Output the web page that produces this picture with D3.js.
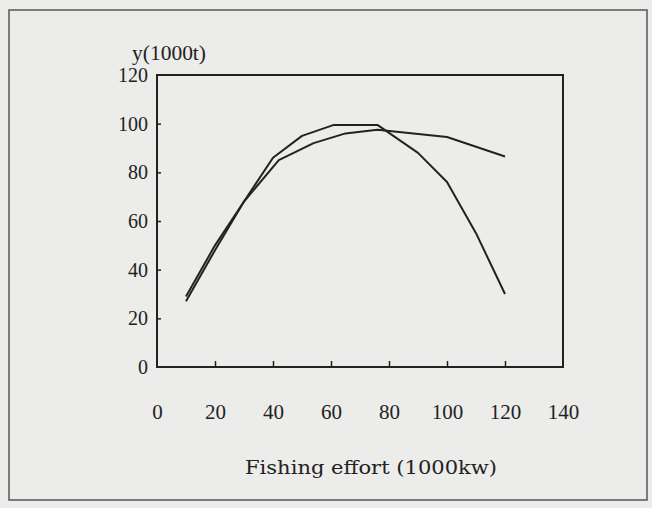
<!DOCTYPE html>
<html>
<head>
<meta charset="utf-8">
<script src="https://cdn.jsdelivr.net/npm/d3@7"></script>
<style>
  body { margin: 0; background: #ececea; }
  svg { display: block; }
</style>
</head>
<body>
<div id="chart"></div>
<script>
// values
var effortA = [10, 20, 30, 40, 50, 61, 76, 90, 100, 110, 120];
var yieldA  = [27, 48, 68, 86, 95, 99.5, 99.5, 88, 76, 55, 30];
var effortB = [10, 20, 30, 42, 54, 65, 76, 100, 120];
var yieldB  = [29, 50, 68, 85, 92, 96, 97.5, 94.5, 86.5];
var xTicks = [0, 20, 40, 60, 80, 100, 120, 140];
var yTicks = [0, 20, 40, 60, 80, 100, 120];

var W = 652, H = 508;
var margin = {top: 75, right: 89, bottom: 141, left: 157},
    width = W - margin.left - margin.right,
    height = H - margin.top - margin.bottom;

var svg = d3.select("#chart").append("svg")
    .attr("width", W)
    .attr("height", H);

// scanned page frame
svg.append("rect")
    .attr("x", 9).attr("y", 10)
    .attr("width", 638).attr("height", 490)
    .attr("fill", "none")
    .attr("stroke", "#555")
    .attr("stroke-width", 1.5);

var g = svg.append("g")
    .attr("transform", "translate(" + margin.left + "," + margin.top + ")");

var x = d3.scaleLinear().domain([0, 140]).range([0, width]);
var y = d3.scaleLinear().domain([0, 120]).range([height, 0]);

var font = "'Liberation Serif', 'DejaVu Serif', serif";
var ink = "#222";

// plot box
g.append("rect")
    .attr("width", width).attr("height", height)
    .attr("fill", "none")
    .attr("stroke", ink)
    .attr("stroke-width", 2);

// x axis: inward ticks, labels well below
var xAxis = g.append("g")
    .attr("transform", "translate(0," + height + ")")
    .call(d3.axisBottom(x).tickValues(xTicks).tickSize(-6).tickPadding(37).tickSizeOuter(0));
xAxis.select(".domain").remove();
xAxis.selectAll(".tick line")
    .attr("stroke", ink).attr("stroke-width", 1.5)
    .filter(function(d) { return d == 0 || d == 140; }).remove();
xAxis.selectAll("text")
    .attr("font-family", font).attr("font-size", 21).attr("fill", ink);

// y axis
var yAxis = g.append("g")
    .call(d3.axisLeft(y).tickValues(yTicks).tickSize(-4).tickPadding(9).tickSizeOuter(0));
yAxis.select(".domain").remove();
yAxis.selectAll(".tick line")
    .attr("stroke", ink).attr("stroke-width", 1.5)
    .filter(function(d) { return d == 0 || d == 120; }).remove();
yAxis.selectAll("text")
    .attr("font-family", font).attr("font-size", 20).attr("fill", ink);

// curves
var line = d3.line()
    .x(function(d) { return x(d[0]); })
    .y(function(d) { return y(d[1]); });

[[effortA, yieldA], [effortB, yieldB]].forEach(function(s) {
    g.append("path")
        .datum(d3.zip(s[0], s[1]))
        .attr("d", line)
        .attr("fill", "none")
        .attr("stroke", ink)
        .attr("stroke-width", 2)
        .attr("stroke-linejoin", "round");
});

// titles
svg.append("text")
    .attr("x", 132).attr("y", 60)
    .attr("font-family", font).attr("font-size", 21).attr("fill", ink)
    .attr("textLength", 74).attr("lengthAdjust", "spacingAndGlyphs")
    .text("y(1000t)");

svg.append("text")
    .attr("x", 245).attr("y", 474)
    .attr("font-family", "'DejaVu Serif', serif").attr("font-size", 19).attr("fill", ink)
    .attr("textLength", 252).attr("lengthAdjust", "spacingAndGlyphs")
    .text("Fishing effort (1000kw)");
</script>
</body>
</html>
